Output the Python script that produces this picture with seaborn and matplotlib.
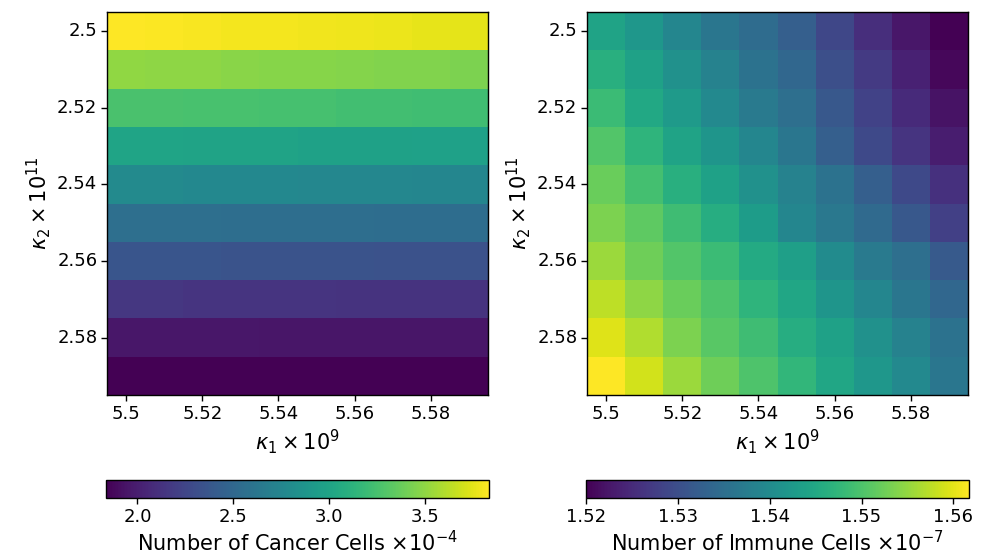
import numpy as np
import pandas as pd
import matplotlib
matplotlib.use("Agg")
import matplotlib.pyplot as plt
import seaborn as sns

# kappa_1 (x 1e9) grid and kappa_2 (x 1e11) grid
kappa1 = ["5.50", "5.51", "5.52", "5.53", "5.54", "5.55", "5.56", "5.57", "5.58", "5.59"]
kappa2 = ["2.50", "2.51", "2.52", "2.53", "2.54", "2.55", "2.56", "2.57", "2.58", "2.59"]
x_tick_labels = ["5.5", "5.52", "5.54", "5.56", "5.58"]
y_tick_labels = ["2.5", "2.52", "2.54", "2.56", "2.58"]

# Number of cancer cells (x 1e-4), rows = kappa2, cols = kappa1
cancer = [
    [3.83, 3.82, 3.81, 3.80, 3.80, 3.79, 3.78, 3.77, 3.76, 3.75],
    [3.50, 3.49, 3.49, 3.48, 3.47, 3.47, 3.46, 3.45, 3.45, 3.44],
    [3.26, 3.26, 3.25, 3.25, 3.24, 3.24, 3.23, 3.23, 3.22, 3.22],
    [3.00, 3.00, 2.99, 2.99, 2.99, 2.98, 2.98, 2.98, 2.97, 2.97],
    [2.78, 2.78, 2.77, 2.77, 2.77, 2.76, 2.76, 2.76, 2.75, 2.75],
    [2.56, 2.56, 2.56, 2.55, 2.55, 2.55, 2.55, 2.54, 2.54, 2.54],
    [2.36, 2.36, 2.36, 2.35, 2.35, 2.35, 2.35, 2.34, 2.34, 2.34],
    [2.15, 2.15, 2.14, 2.14, 2.14, 2.14, 2.13, 2.13, 2.13, 2.13],
    [1.96, 1.96, 1.96, 1.96, 1.95, 1.95, 1.95, 1.95, 1.95, 1.95],
    [1.84, 1.84, 1.84, 1.84, 1.84, 1.84, 1.84, 1.84, 1.84, 1.84],
]
cancer_range = [1.836, 3.832]

# Number of immune cells (x 1e-7)
immune = [
    [1.5442, 1.5421, 1.5392, 1.5363, 1.5346, 1.5325, 1.5288, 1.5254, 1.5225, 1.5200],
    [1.5463, 1.5438, 1.5409, 1.5383, 1.5358, 1.5338, 1.5300, 1.5271, 1.5238, 1.5208],
    [1.5484, 1.5450, 1.5425, 1.5396, 1.5371, 1.5350, 1.5313, 1.5283, 1.5250, 1.5221],
    [1.5504, 1.5471, 1.5442, 1.5417, 1.5392, 1.5363, 1.5325, 1.5292, 1.5263, 1.5233],
    [1.5521, 1.5492, 1.5463, 1.5438, 1.5409, 1.5383, 1.5358, 1.5325, 1.5292, 1.5258],
    [1.5534, 1.5513, 1.5488, 1.5459, 1.5429, 1.5392, 1.5367, 1.5342, 1.5313, 1.5279],
    [1.5554, 1.5525, 1.5504, 1.5484, 1.5454, 1.5434, 1.5400, 1.5371, 1.5350, 1.5317],
    [1.5575, 1.5546, 1.5521, 1.5500, 1.5471, 1.5446, 1.5417, 1.5392, 1.5363, 1.5338],
    [1.5596, 1.5567, 1.5534, 1.5509, 1.5488, 1.5459, 1.5438, 1.5409, 1.5383, 1.5358],
    [1.5617, 1.5588, 1.5554, 1.5525, 1.5500, 1.5475, 1.5446, 1.5421, 1.5396, 1.5363],
]
immune_range = [1.5200, 1.5617]

plt.rcParams["font.family"] = ["DejaVu Sans"]
plt.rcParams["font.size"] = 13

fig = plt.figure(figsize=(9.9, 5.58), dpi=100)
W, H = 990, 558

def rect(x0, y0, x1, y1):
    return [x0 / W, 1 - y1 / H, (x1 - x0) / W, (y1 - y0) / H]

panels = [
    dict(data=cancer, rng=cancer_range, ax=rect(107, 12, 488, 395),
         cax=rect(106, 480, 489, 498),
         clabel=r"Number of Cancer Cells $\times 10^{-4}$"),
    dict(data=immune, rng=immune_range, ax=rect(587, 12, 968, 395),
         cax=rect(586, 480, 969, 498),
         clabel=r"Number of Immune Cells $\times 10^{-7}$"),
]

for p in panels:
    ax = fig.add_axes(p["ax"])
    cax = fig.add_axes(p["cax"])
    df = pd.DataFrame(p["data"], index=kappa2, columns=kappa1)
    sns.heatmap(df, ax=ax, cbar_ax=cax, cmap="viridis",
                vmin=p["rng"][0], vmax=p["rng"][1],
                cbar_kws={"orientation": "horizontal"})
    ax.set_xticks([0.5, 2.5, 4.5, 6.5, 8.5])
    ax.set_xticklabels(x_tick_labels, rotation=0, fontsize=13)
    ax.set_yticks([0.5, 2.5, 4.5, 6.5, 8.5])
    ax.set_yticklabels(y_tick_labels, rotation=0, fontsize=13)
    ax.tick_params(axis="both", length=4, width=1, color="black", pad=3)
    ax.set_xlabel(r"$\kappa_1 \times 10^{9}$", fontsize=15, labelpad=3)
    ax.set_ylabel(r"$\kappa_2 \times 10^{11}$", fontsize=15, labelpad=3)
    for s in ax.spines.values():
        s.set_visible(True)
        s.set_color("black")
        s.set_linewidth(1.0)
    cb = ax.collections[0].colorbar
    cb.outline.set_visible(True)
    cb.outline.set_edgecolor("black")
    cb.outline.set_linewidth(1.0)
    cax.tick_params(labelsize=13, length=4, width=1, pad=3)
    cb.set_label(p["clabel"], fontsize=15, labelpad=3)

fig.savefig("out.png", dpi=100)
